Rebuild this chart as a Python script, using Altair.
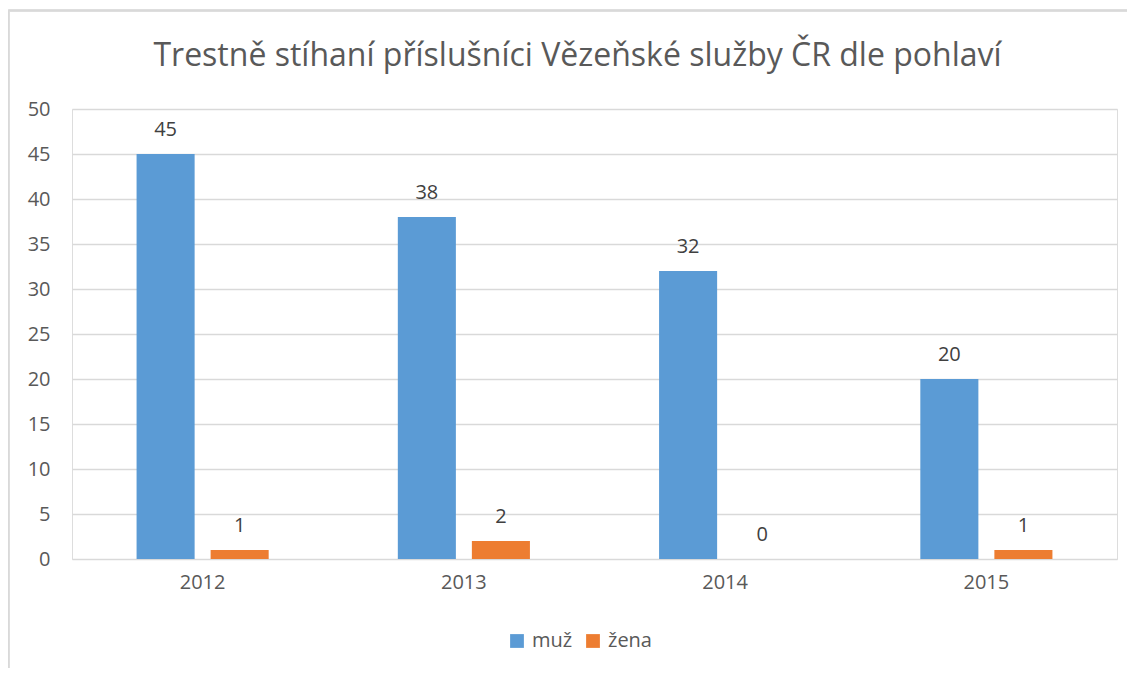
import altair as alt
import pandas as pd

years = ["2012", "2013", "2014", "2015"]
muz = [45, 38, 32, 20]
zena = [1, 2, 0, 1]
series = ["muž", "žena"]
colors = ["#5B9BD5", "#ED7D31"]
title_text = "Trestně stíhaní příslušníci Vězeňské služby ČR dle pohlaví"

rows = []
for i, y in enumerate(years):
    rows.append({"rok": y, "pohlaví": series[0], "počet": muz[i]})
    rows.append({"rok": y, "pohlaví": series[1], "počet": zena[i]})
df = pd.DataFrame(rows)

FONT = "Open Sans"
FS = 20

x = alt.X("rok:N", sort=years, title=None,
          scale=alt.Scale(paddingInner=0, paddingOuter=0),
          axis=alt.Axis(labelAngle=0, labelFontSize=FS, labelColor="#595959",
                        labelFont=FONT, ticks=False, domain=False, labelPadding=13,
                        grid=False))
xo = alt.XOffset("pohlaví:N", sort=series,
                 scale=alt.Scale(paddingInner=0.216, paddingOuter=0.872))
y = alt.Y("počet:Q", title=None,
          scale=alt.Scale(domain=[0, 50]),
          axis=alt.Axis(values=list(range(0, 51, 5)), labelFontSize=FS,
                        labelColor="#595959", labelFont=FONT, ticks=False,
                        domain=False, labelPadding=22, gridColor="#D9D9D9",
                        gridWidth=1.5))
color = alt.Color("pohlaví:N", sort=series,
                  scale=alt.Scale(domain=series, range=colors),
                  legend=alt.Legend(title=None, orient="none", direction="horizontal",
                                    legendX=435, legendY=522, symbolType="square",
                                    symbolSize=190, symbolStrokeWidth=0,
                                    labelFontSize=FS, labelColor="#595959",
                                    labelFont=FONT, columnPadding=10,
                                    symbolOffset=0, labelOffset=5))

base = alt.Chart(df)
bars = base.mark_bar().encode(x=x, xOffset=xo, y=y, color=color)
labels = base.mark_text(dy=-14, fontSize=FS, color="#404040", font=FONT,
                        baseline="bottom").encode(
    x=x, xOffset=xo, y=y, text="počet:Q")

border_top = alt.Chart(df).mark_rule(color="#D9D9D9", strokeWidth=1.5).encode(
    x=alt.value(-63.5), x2=alt.value(1100), y=alt.value(-98.5))
border_left = alt.Chart(df).mark_rule(color="#D9D9D9", strokeWidth=1.5).encode(
    x=alt.value(-63.5), y=alt.value(-98.5), y2=alt.value(600))

chart = alt.layer(bars, labels, border_top, border_left).properties(
    width=1045, height=450,
    title=alt.Title(title_text, fontSize=32, font=FONT, color="#595959",
                    fontWeight="normal", anchor="middle", frame="group",
                    baseline="alphabetic", dx=-17, offset=0, dy=88),
    autosize=alt.AutoSizeParams(type="none"),
    padding={"left": 64, "top": 101, "right": 10, "bottom": 109},
).configure_view(stroke=None).configure(background="white")

chart.save("out.html", embed_options={"renderer": "svg", "actions": False})
